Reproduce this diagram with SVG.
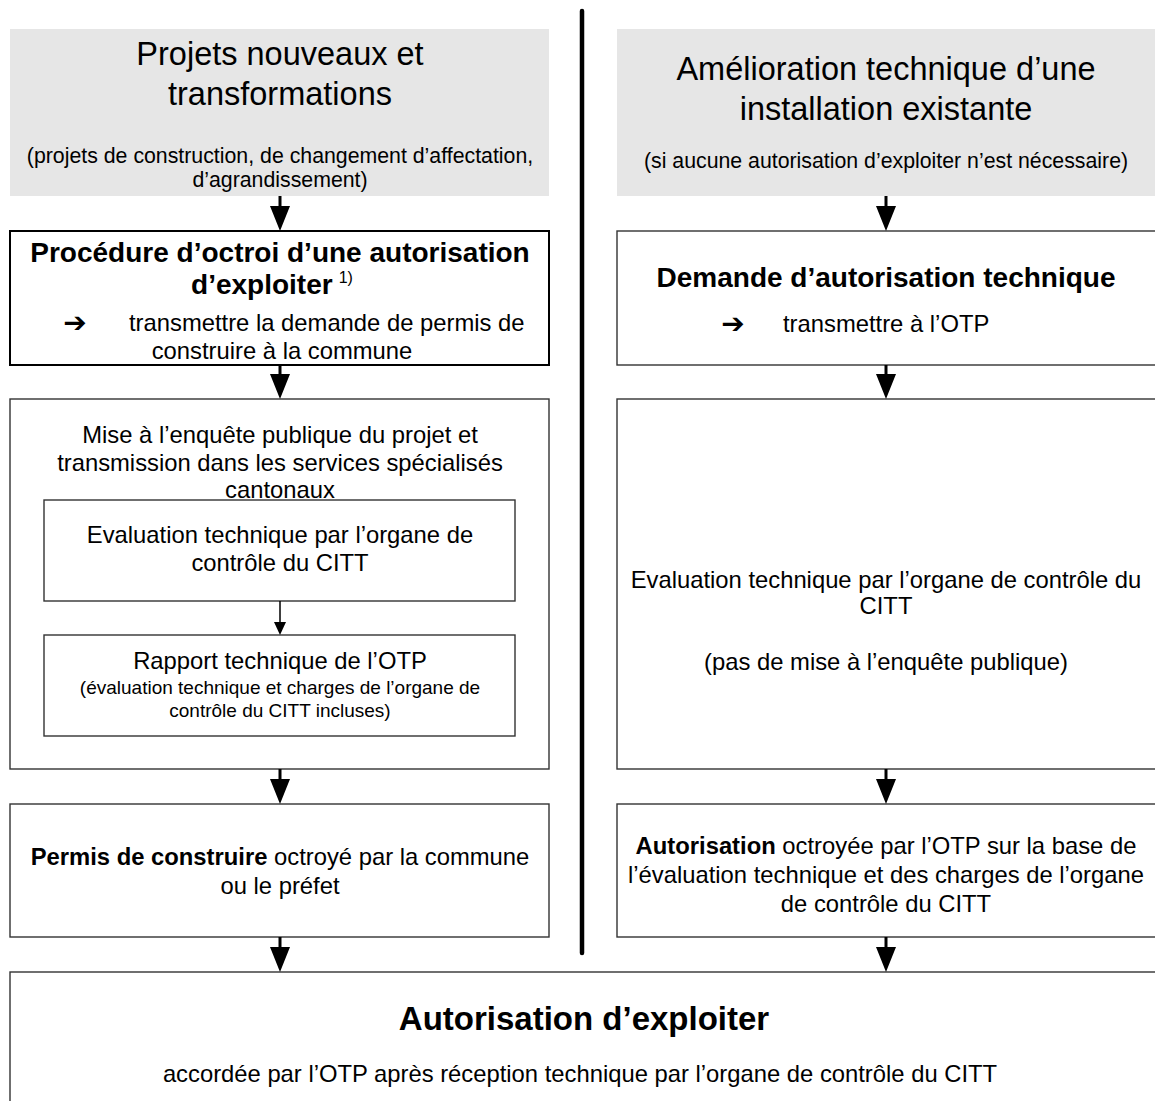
<svg xmlns="http://www.w3.org/2000/svg" width="1155" height="1101" viewBox="0 0 1155 1101">
<defs>
<style>
text{font-family:"Liberation Sans",Arial,sans-serif;fill:#000;text-anchor:middle}
.t{font-size:32.5px}
.p{font-size:21.3px}
.b{font-size:23.8px}
.s{font-size:19px}
.h{font-size:28px;font-weight:bold}
.hh{font-size:33px;font-weight:bold}
.bold{font-weight:bold}
.gray{fill:#e6e6e6;stroke:none}
.box{fill:#fff;stroke:#333;stroke-width:1.4}
.box2{fill:#fff;stroke:#000;stroke-width:2}
.sym{font-family:"DejaVu Sans",sans-serif;font-size:28px;font-weight:bold;text-anchor:middle}
.st{text-anchor:start}
.shaft{stroke:#000;stroke-width:3}
.shaft2{stroke:#000;stroke-width:1.5}
</style>
</defs>
<line x1="582" y1="11" x2="582" y2="953" stroke="#000" stroke-width="4.5" stroke-linecap="round"/>
<g id="n-left-head">
<rect class="gray" x="10" y="29" width="539" height="167"/>
<text class="t" x="280" y="65">Projets nouveaux et</text>
<text class="t" x="280" y="105">transformations</text>
<text class="p" x="280" y="163">(projets de construction, de changement d’affectation,</text>
<text class="p" x="280" y="187">d’agrandissement)</text>
</g>
<g id="n-right-head">
<rect class="gray" x="617" y="29" width="545" height="167"/>
<text class="t" x="886" y="80">Amélioration technique d’une</text>
<text class="t" x="886" y="120">installation existante</text>
<text class="p" x="886" y="168">(si aucune autorisation d’exploiter n’est nécessaire)</text>
</g>
<g id="n-procedure">
<rect class="box2" x="10" y="231" width="539" height="134"/>
<text class="h" x="280" y="262">Procédure d’octroi d’une autorisation</text>
<text class="h" x="272" y="294">d’exploiter<tspan font-size="16" font-weight="normal" dx="6" dy="-11">1)</tspan></text>
<text class="sym" x="75" y="332">➔</text>
<text class="b st" x="129" y="331">transmettre la demande de permis de</text>
<text class="b" x="282" y="359">construire à la commune</text>
</g>
<g id="n-demande">
<rect class="box" x="617" y="231" width="545" height="134"/>
<text class="h" x="886" y="287">Demande d’autorisation technique</text>
<text class="sym" x="733" y="333">➔</text>
<text class="b st" x="783" y="332">transmettre à l’OTP</text>
</g>
<g id="n-mise">
<rect class="box" x="10" y="399" width="539" height="370"/>
<text class="b" x="280" y="443">Mise à l’enquête publique du projet et</text>
<text class="b" x="280" y="471">transmission dans les services spécialisés</text>
<text class="b" x="280" y="498">cantonaux</text>
</g>
<g id="n-eval-left">
<rect class="box" x="44" y="500" width="471" height="101"/>
<text class="b" x="280" y="543">Evaluation technique par l’organe de</text>
<text class="b" x="280" y="571">contrôle du CITT</text>
</g>
<g id="n-rapport">
<rect class="box" x="44" y="635" width="471" height="101"/>
<text class="b" x="280" y="669">Rapport technique de l’OTP</text>
<text class="s" x="280" y="694">(évaluation technique et charges de l’organe de</text>
<text class="s" x="280" y="717">contrôle du CITT incluses)</text>
</g>
<g id="n-eval-right">
<rect class="box" x="617" y="399" width="545" height="370"/>
<text class="b" x="886" y="588">Evaluation technique par l’organe de contrôle du</text>
<text class="b" x="886" y="614">CITT</text>
<text class="b" x="886" y="670">(pas de mise à l’enquête publique)</text>
</g>
<g id="n-permis">
<rect class="box" x="10" y="804" width="539" height="133"/>
<text class="b" x="280" y="865"><tspan class="bold">Permis de construire</tspan> octroyé par la commune</text>
<text class="b" x="280" y="894">ou le préfet</text>
</g>
<g id="n-autorisation">
<rect class="box" x="617" y="804" width="545" height="133"/>
<text class="b" x="886" y="854"><tspan class="bold">Autorisation</tspan> octroyée par l’OTP sur la base de</text>
<text class="b" x="886" y="883">l’évaluation technique et des charges de l’organe</text>
<text class="b" x="886" y="912">de contrôle du CITT</text>
</g>
<g id="n-final">
<rect class="box" x="10" y="972" width="1152" height="140"/>
<text class="hh" x="584" y="1030">Autorisation d’exploiter</text>
<text class="b" x="580" y="1082">accordée par l’OTP après réception technique par l’organe de contrôle du CITT</text>
</g>
<g id="connectors">
<line class="shaft" x1="280" y1="196" x2="280" y2="210"/><polygon points="270,206 290,206 280,231"/>
<line class="shaft" x1="280" y1="365" x2="280" y2="378"/><polygon points="270,374 290,374 280,399"/>
<line class="shaft2" x1="280" y1="601" x2="280" y2="625"/><polygon points="274,622 286,622 280,635"/>
<line class="shaft" x1="280" y1="769" x2="280" y2="783"/><polygon points="270,779 290,779 280,804"/>
<line class="shaft" x1="280" y1="937" x2="280" y2="951"/><polygon points="270,947 290,947 280,972"/>
<line class="shaft" x1="886" y1="196" x2="886" y2="210"/><polygon points="876,206 896,206 886,231"/>
<line class="shaft" x1="886" y1="365" x2="886" y2="378"/><polygon points="876,374 896,374 886,399"/>
<line class="shaft" x1="886" y1="769" x2="886" y2="783"/><polygon points="876,779 896,779 886,804"/>
<line class="shaft" x1="886" y1="937" x2="886" y2="951"/><polygon points="876,947 896,947 886,972"/>
</g>
</svg>
